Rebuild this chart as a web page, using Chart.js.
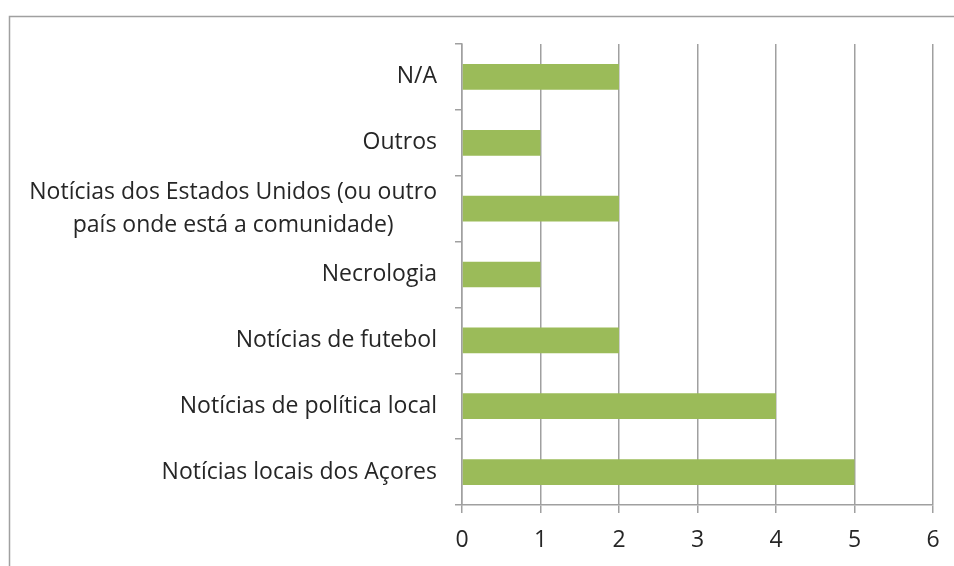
<!DOCTYPE html>
<html>
<head>
<meta charset="utf-8">
<script src="https://cdn.jsdelivr.net/npm/chart.js@4.4.1/dist/chart.umd.min.js"></script>
<style>
  html, body { margin: 0; padding: 0; background: #fff; }
  #wrap { width: 954px; height: 566px; }
</style>
</head>
<body>
<div id="wrap"><canvas id="barChart" width="954" height="566"></canvas></div>
<script>
// categorias (de cima para baixo) e valores
const categorias = [
  "N/A",
  "Outros",
  ["Notícias dos Estados Unidos (ou outro", "país onde está a comunidade)"],
  "Necrologia",
  "Notícias de futebol",
  "Notícias de política local",
  "Notícias locais dos Açores"
];
const valores = [2, 1, 2, 1, 2, 4, 5];
const xMin = 0;
const xMax = 6;

const FONT = "'Open Sans', 'Noto Sans', sans-serif";
const GRID = "#a0a0a0";
const TXT = "#262626";

// moldura exterior (só topo e esquerda ficam visíveis)
const moldura = {
  id: "moldura",
  beforeDraw(chart) {
    const ctx = chart.ctx;
    ctx.save();
    ctx.strokeStyle = GRID;
    ctx.lineWidth = 1.5;
    ctx.beginPath();
    ctx.moveTo(9.5, chart.height);
    ctx.lineTo(9.5, 16.5);
    ctx.lineTo(chart.width, 16.5);
    ctx.stroke();
    ctx.restore();
  }
};

// rótulos do eixo Y: bloco alinhado à direita, linhas centradas entre si
const rotulosY = {
  id: "rotulosY",
  afterDraw(chart) {
    const scale = chart.scales.y;
    const ctx = chart.ctx;
    const right = scale.right - 25;
    const lineH = 33;
    ctx.save();
    ctx.font = "23px " + FONT;
    ctx.fillStyle = TXT;
    ctx.textBaseline = "middle";
    categorias.forEach((lab, i) => {
      const lines = Array.isArray(lab) ? lab : [lab];
      const y = scale.getPixelForTick(i);
      const maxW = Math.max(...lines.map((l) => ctx.measureText(l).width));
      const cx = right - maxW / 2;
      ctx.textAlign = "center";
      lines.forEach((l, k) => {
        const yy = y + (k - (lines.length - 1) / 2) * lineH;
        ctx.fillText(l, cx, yy);
      });
    });
    ctx.restore();
  }
};

new Chart(document.getElementById("barChart"), {
  type: "bar",
  data: {
    labels: categorias,
    datasets: [
      {
        data: valores,
        backgroundColor: "#9bbb59",
        barPercentage: 0.39,
        categoryPercentage: 1
      }
    ]
  },
  options: {
    indexAxis: "y",
    responsive: false,
    animation: false,
    layout: { padding: { left: 0, right: 21, top: 44, bottom: 0 } },
    plugins: {
      legend: { display: false },
      tooltip: { enabled: false }
    },
    scales: {
      x: {
        min: xMin,
        max: xMax,
        ticks: {
          stepSize: 1,
          color: TXT,
          font: { family: FONT, size: 23 },
          padding: 14
        },
        grid: {
          color: GRID,
          lineWidth: 1.5,
          tickLength: 8
        },
        border: { color: GRID, width: 1.5 },
        afterFit(scale) { scale.height = 61; }
      },
      y: {
        ticks: { color: "rgba(0,0,0,0)", font: { family: FONT, size: 23 } },
        grid: {
          drawOnChartArea: false,
          color: GRID,
          lineWidth: 1.5,
          tickLength: 7,
          offset: true
        },
        border: { color: GRID, width: 1.5 },
        afterFit(scale) { scale.width = 462; }
      }
    }
  },
  plugins: [moldura, rotulosY]
});
</script>
</body>
</html>
